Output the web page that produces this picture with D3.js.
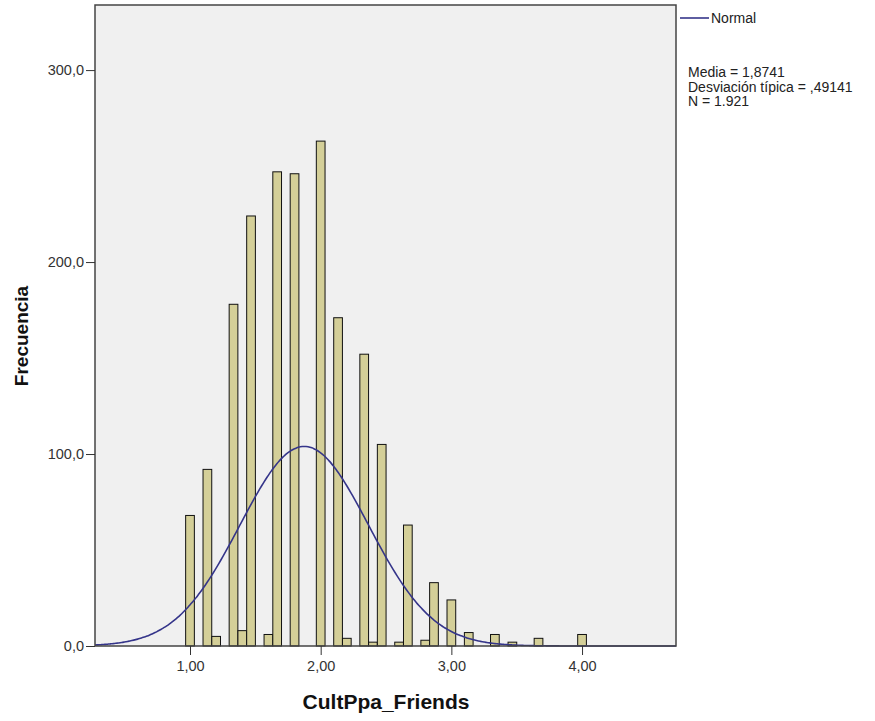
<!DOCTYPE html>
<html>
<head>
<meta charset="utf-8">
<script src="https://cdn.jsdelivr.net/npm/d3@7"></script>
<style>
  html, body { margin: 0; padding: 0; background: #ffffff; }
  svg { display: block; font-family: "Liberation Sans", Arial, sans-serif; }
</style>
</head>
<body>
<svg id="chart" width="875" height="721"></svg>
<script>
// Histogram of CultPpa_Friends (bin width 1/15) with fitted normal curve
const binMidpoints = [1.000, 1.133, 1.200, 1.333, 1.400, 1.467, 1.600, 1.667, 1.800,
                      2.000, 2.133, 2.200, 2.333, 2.400, 2.467, 2.600, 2.667, 2.800,
                      2.867, 3.000, 3.133, 3.333, 3.467, 3.667, 4.000];
const frequencies  = [68, 92, 5, 178, 8, 224, 6, 247, 246,
                      263, 171, 4, 152, 2, 105, 2, 63, 3,
                      33, 24, 7, 6, 2, 4, 6];
const binWidth = 1 / 15;

const xTicks = [1, 2, 3, 4];
const xTickLabels = ["1,00", "2,00", "3,00", "4,00"];
const yTicks = [0, 100, 200, 300];
const yTickLabels = ["0,0", "100,0", "200,0", "300,0"];

const stats = { mean: 1.8741, sd: 0.49141, n: 1921 };
const statLines = ["Media = 1,8741", "Desviación típica = ,49141", "N = 1.921"];
const legendLabel = "Normal";
const xTitle = "CultPpa_Friends";
const yTitle = "Frecuencia";

const plot = { left: 95, right: 676, top: 5, bottom: 646 };

const svg = d3.select("#chart");

const x = d3.scaleLinear().domain([0.273, 4.719]).range([plot.left, plot.right]);
const y = d3.scaleLinear().domain([0, 333.9]).range([plot.bottom, plot.top]);

// plot background
svg.append("rect")
  .attr("x", plot.left).attr("y", plot.top)
  .attr("width", plot.right - plot.left).attr("height", plot.bottom - plot.top)
  .attr("fill", "#f0f0f0");

// bars
svg.append("g").selectAll("rect")
  .data(binMidpoints.map((m, i) => ({ m, f: frequencies[i] })))
  .join("rect")
  .attr("x", d => x(d.m - binWidth / 2))
  .attr("width", d => x(d.m + binWidth / 2) - x(d.m - binWidth / 2))
  .attr("y", d => y(d.f))
  .attr("height", d => y(0) - y(d.f))
  .attr("fill", "#d4cf98")
  .attr("stroke", "#111")
  .attr("stroke-width", 1);

// fitted normal curve scaled to counts
const pdf = v => Math.exp(-0.5 * ((v - stats.mean) / stats.sd) ** 2) / (stats.sd * Math.sqrt(2 * Math.PI));
const curvePts = d3.range(0, 301).map(i => {
  const v = x.domain()[0] + (x.domain()[1] - x.domain()[0]) * i / 300;
  return [v, stats.n * binWidth * pdf(v)];
});
svg.append("path")
  .datum(curvePts)
  .attr("fill", "none")
  .attr("stroke", "#35358a")
  .attr("stroke-width", 1.6)
  .attr("d", d3.line().x(d => x(d[0])).y(d => y(d[1])).curve(d3.curveBasis));

// frame
svg.append("rect")
  .attr("x", plot.left).attr("y", plot.top)
  .attr("width", plot.right - plot.left).attr("height", plot.bottom - plot.top)
  .attr("fill", "none")
  .attr("stroke", "#444")
  .attr("stroke-width", 1.5);

// y axis
const yAxis = d3.axisLeft(y).tickValues(yTicks)
  .tickFormat((d, i) => yTickLabels[i]).tickSize(9).tickPadding(2);
const gy = svg.append("g").attr("transform", `translate(${plot.left},0)`).call(yAxis);
gy.select(".domain").remove();
gy.selectAll(".tick line").attr("stroke", "#333");
gy.selectAll(".tick text").attr("fill", "#333").attr("font-size", 14.5)
  .attr("font-family", "Liberation Sans, Arial, sans-serif");

// x axis
const xAxis = d3.axisBottom(x).tickValues(xTicks)
  .tickFormat((d, i) => xTickLabels[i]).tickSize(9).tickPadding(6);
const gx = svg.append("g").attr("transform", `translate(0,${plot.bottom})`).call(xAxis);
gx.select(".domain").remove();
gx.selectAll(".tick line").attr("stroke", "#333");
gx.selectAll(".tick text").attr("fill", "#333").attr("font-size", 14.5)
  .attr("font-family", "Liberation Sans, Arial, sans-serif");

// axis titles
svg.append("text")
  .attr("x", 386).attr("y", 709)
  .attr("text-anchor", "middle")
  .attr("font-size", 21).attr("font-weight", "bold").attr("fill", "#111")
  .text(xTitle);
svg.append("text")
  .attr("transform", `translate(28,336) rotate(-90)`)
  .attr("text-anchor", "middle")
  .attr("font-size", 19).attr("font-weight", "bold").attr("fill", "#111")
  .text(yTitle);

// legend
svg.append("line")
  .attr("x1", 680).attr("x2", 709).attr("y1", 18).attr("y2", 18)
  .attr("stroke", "#35358a").attr("stroke-width", 1.6);
svg.append("text")
  .attr("x", 711).attr("y", 23)
  .attr("font-size", 14).attr("fill", "#222")
  .text(legendLabel);

svg.append("g").selectAll("text")
  .data(statLines)
  .join("text")
  .attr("x", 688)
  .attr("y", (d, i) => 77 + i * 14.5)
  .attr("font-size", 14).attr("fill", "#222")
  .text(d => d);
</script>
</body>
</html>
